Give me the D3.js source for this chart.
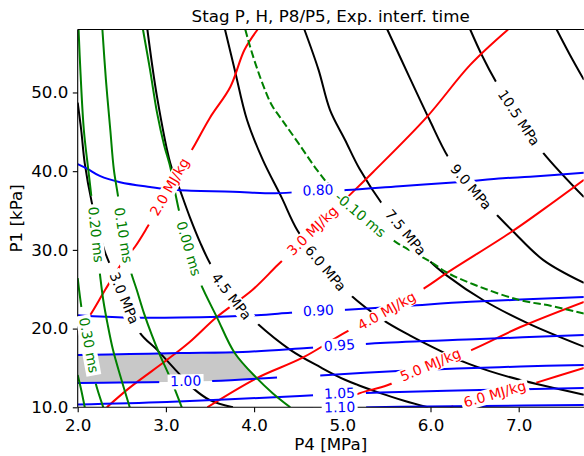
<!DOCTYPE html>
<html>
<head>
<meta charset="utf-8">
<script src="https://cdn.jsdelivr.net/npm/d3@7"></script>
<style>
  body { margin: 0; background: #fff; }
  svg { display: block; font-family: "DejaVu Sans", sans-serif; }
</style>
</head>
<body>
<svg id="chart" width="584" height="456"></svg>
<script>
// contour paths, points are [P4 MPa, P1 kPa]
const xTicks = [2, 3, 4, 5, 6, 7];
const yTicks = [10, 20, 30, 40, 50];

// stagnation pressure (black)
const stagPLevels = [3.0, 4.5, 6.0, 7.5, 9.0, 10.5, 12.0];
const stagPLines = [
  [[2.00,48.7],[2.04,45.2],[2.08,41.0],[2.16,36.0],[2.23,32.8],[2.31,29.7],[2.39,27.5],[2.53,23.6],[2.71,19.4],[2.90,17.3],[3.13,14.5],[3.30,12.5],[3.50,10.9],[3.76,10.0]],
  [[2.79,58.0],[2.90,49.4],[3.05,41.0],[3.16,37.6],[3.27,34.2],[3.39,30.9],[3.50,28.3],[3.74,24.0],[4.03,20.7],[4.41,17.3],[4.75,15.1],[5.03,13.5],[5.43,11.8],[5.71,10.8],[5.97,10.0]],
  [[3.67,58.0],[3.78,52.9],[3.92,46.5],[4.10,41.4],[4.31,36.7],[4.49,32.5],[4.79,27.8],[5.09,24.3],[5.46,21.1],[5.77,19.1],[6.14,17.0],[6.37,15.8],[6.67,14.6],[7.01,13.5],[7.74,11.6]],
  [[4.57,58.0],[4.73,52.9],[4.86,47.8],[5.03,44.0],[5.20,40.2],[5.46,35.7],[5.71,32.2],[6.00,28.5],[6.19,26.7],[6.60,23.6],[7.10,20.7],[7.74,17.7]],
  [[5.51,58.0],[5.68,53.9],[5.88,49.1],[5.99,46.5],[6.20,41.8],[6.45,38.0],[6.73,34.7],[6.94,32.3],[7.28,28.7],[7.74,25.8]],
  [[6.45,58.0],[6.58,54.8],[6.75,51.2],[7.01,46.5],[7.28,42.3],[7.74,36.7]],
  [[7.43,58.0],[7.58,54.8],[7.74,51.6]]
];
const stagPLabels = [[2.46,23.6],[3.74,24.0],[4.80,27.6],[5.71,32.2],[6.45,38.0],[7.01,46.8],null];

// enthalpy (red)
const enthLevels = [2.0, 3.0, 4.0, 5.0, 6.0];
const enthLines = [
  [[4.04,58.0],[3.89,55.4],[3.73,50.7],[3.50,46.8],[3.31,43.0],[3.05,38.0],[2.79,32.9],[2.65,30.4],[2.50,28.3],[2.31,24.9],[2.14,21.7],[2.00,19.6]],
  [[6.88,58.0],[6.45,53.5],[5.96,46.9],[5.35,39.9],[5.05,36.6],[4.66,32.3],[4.27,28.1],[3.98,24.9],[3.58,21.5],[3.27,18.3],[3.01,16.0],[2.59,12.5],[2.33,10.0]],
  [[7.74,38.9],[7.30,35.3],[6.92,32.3],[6.19,27.1],[5.94,25.2],[5.51,22.2],[5.05,19.6],[4.55,16.3],[4.03,13.7],[3.47,10.0]],
  [[7.74,23.4],[7.02,20.2],[6.47,17.3],[6.00,15.3],[5.51,12.8],[5.20,11.8],[4.84,10.0]],
  [[7.74,15.0],[7.22,13.2],[6.73,11.6],[6.22,10.0]]
];
const enthLabels = [[3.05,38.0],[4.66,32.4],[5.51,22.2],[6.00,15.3],[6.73,11.6]];

// P8/P5 (blue), null = break in the contour
const ratioLevels = [0.80, 0.90, 0.95, 1.00, 1.05, 1.10];
const ratioLines = [
  [[2.00,40.9],[2.11,40.3],[2.25,39.4],[2.48,38.6],[2.82,38.0],[3.13,37.6],[3.76,37.4],[4.24,37.2],[4.72,37.5],[5.05,37.6],[5.65,38.1],[6.30,38.6],[6.82,39.1],[7.13,39.3],[7.74,39.8]],
  [[2.00,21.7],[2.56,21.4],[3.16,21.4],[4.03,21.7],[4.41,22.0],[4.72,22.2],[5.05,22.4],[5.75,22.9],[6.45,23.4],[7.74,24.0]],
  [[2.00,16.65],[2.59,16.77],[3.16,16.90],[3.87,17.03],[4.60,17.53],[4.97,17.79],[5.43,18.17],[6.56,18.68],[7.74,19.19]],
  [[2.00,13.09],[2.48,13.15],[3.01,13.21],[3.53,13.34],[4.26,13.79],null,[4.75,14.04],[5.63,14.61],[6.30,14.93],[7.02,15.18],[7.74,15.38]],
  [[2.00,10.36],[3.01,10.67],[4.52,11.44],[4.97,11.69],[5.43,11.88],[6.56,12.20],[7.74,12.45]],
  [[3.95,9.66],[4.97,9.91],[5.65,10.06],[6.56,10.17],[7.74,10.29]]
];
const ratioLabels = [[4.73,37.5],[4.73,22.2],[4.97,17.8],[3.23,13.3],[4.97,11.7],[4.97,9.9]];

// expansion interface time (green)
const timeLevels = [0.40, 0.30, 0.20, 0.10, 0.00, -0.10];
const timeLines = [
  [[2.00,14.1],[2.04,12.2],[2.08,10.0]],
  [[2.00,26.4],[2.05,22.1],[2.12,17.9],[2.20,13.2],[2.29,10.0]],
  [[2.01,58.0],[2.03,52.9],[2.07,45.2],[2.12,40.2],[2.16,36.3],[2.20,31.9],[2.25,27.1],[2.29,23.6],[2.34,20.5],[2.40,17.3],[2.48,14.1],[2.59,10.0]],
  [[2.28,58.0],[2.32,51.6],[2.37,45.2],[2.41,40.2],[2.46,36.6],[2.51,31.9],[2.59,27.7],[2.67,24.9],[2.75,22.0],[2.84,19.2],[2.93,16.7],[3.05,13.7],[3.18,10.0]],
  [[2.74,58.0],[2.82,52.9],[2.90,47.4],[2.98,43.3],[3.05,40.5],[3.11,37.0],[3.16,34.4],[3.25,30.2],[3.39,25.8],[3.58,21.4],[3.78,16.9],[4.03,13.7],[4.21,11.8],[4.41,10.0]],
  [[3.90,58.0],[3.95,56.0],[4.02,53.5],[4.10,51.0],[4.20,48.4],[4.33,46.3],[4.50,43.6],[4.71,40.2],[4.90,37.6],[5.20,34.4],[5.62,30.9],[6.00,28.5],[6.19,27.1],[6.56,25.3],[7.02,23.6],[7.36,22.9],[7.74,21.9]]
];
const timeLabels = [null,[2.12,17.9],[2.20,31.9],[2.51,31.9],[3.25,30.2],[5.20,34.4]];

const families = [
  { levels: stagPLevels, lines: stagPLines, labels: stagPLabels, color: "#000000", fmt: v => v.toFixed(1) + " MPa" },
  { levels: enthLevels, lines: enthLines, labels: enthLabels, color: "#ff0000", fmt: v => v.toFixed(1) + " MJ/kg" },
  { levels: ratioLevels, lines: ratioLines, labels: ratioLabels, color: "#0000ff", fmt: v => v.toFixed(2) },
  { levels: timeLevels, lines: timeLines, labels: timeLabels, color: "#008000", fmt: v => v.toFixed(2) + " ms" }
];

const W = 584, H = 456;
const x = d3.scaleLinear().domain([2.0, 7.737]).range([77.7, 583.7]);
const y = d3.scaleLinear().domain([10.0, 58.0]).range([407.3, 29.5]);

const svg = d3.select("#chart");
const defs = svg.append("defs");

defs.append("clipPath").attr("id", "plotClip")
  .append("rect")
  .attr("x", x(2)).attr("y", y(58))
  .attr("width", x(7.737) - x(2)).attr("height", y(10) - y(58));

const line = d3.line()
  .defined(d => d != null)
  .x(d => x(d[0]))
  .y(d => y(d[1]))
  .curve(d3.curveCatmullRom.alpha(0.5));

const plot = svg.append("g").attr("clip-path", "url(#plotClip)");

// grey band: 0.95 <= P8/P5 <= 1.00 where the interface time is >= 0
const upper = ratioLines[ratioLevels.indexOf(0.95)];
const lower = ratioLines[ratioLevels.indexOf(1.00)].filter(Boolean);
const zeroTime = timeLines[timeLevels.indexOf(0.00)];
const validArea = zeroTime.concat([[1.5, 10.0], [1.5, 58.0]]);

defs.append("clipPath").attr("id", "validClip")
  .append("path")
  .attr("d", d3.line().x(d => x(d[0])).y(d => y(d[1]))(validArea) + "Z");

plot.append("g").attr("clip-path", "url(#validClip)")
  .append("path")
  .attr("d", d3.line().x(d => x(d[0])).y(d => y(d[1]))(upper.concat(lower.slice().reverse())) + "Z")
  .attr("fill", "#c8c8c8")
  .attr("stroke", "none");

// contour lines
families.forEach(function (fam) {
  fam.paths = fam.lines.map(function (pts, i) {
    return plot.append("path")
      .attr("d", line(pts))
      .attr("fill", "none")
      .attr("stroke", fam.color)
      .attr("stroke-width", 2)
      .attr("stroke-dasharray", fam.levels[i] < 0 ? "7.7,3.3" : null);
  });
});

// spines and axes
const spines = svg.append("g").attr("stroke", "#000").attr("stroke-width", 1.1);
spines.append("line").attr("x1", x(2)).attr("x2", x(2)).attr("y1", y(58)).attr("y2", y(10));
spines.append("line").attr("x1", x(2)).attr("x2", W).attr("y1", y(10)).attr("y2", y(10));
spines.append("line").attr("x1", x(2)).attr("x2", W).attr("y1", y(58)).attr("y2", y(58));

const xAxis = svg.append("g")
  .attr("transform", `translate(0,${y(10)})`)
  .call(d3.axisBottom(x).tickValues(xTicks).tickFormat(d3.format(".1f")).tickSize(4.9).tickPadding(7.4));

const yAxis = svg.append("g")
  .attr("transform", `translate(${x(2)},0)`)
  .call(d3.axisLeft(y).tickValues(yTicks).tickFormat(d3.format(".1f")).tickSize(4.9).tickPadding(4.5));

[xAxis, yAxis].forEach(function (ax) {
  ax.select(".domain").remove();
  ax.attr("font-size", null).attr("font-family", null);
  ax.selectAll("line").attr("stroke", "#000").attr("stroke-width", 1.1);
  ax.selectAll("text").style("font-size", "16.7px").attr("fill", "#000");
});

svg.append("text")
  .attr("x", 330.7).attr("y", 21.5)
  .attr("text-anchor", "middle")
  .style("font-size", "16.7px")
  .text("Stag P, H, P8/P5, Exp. interf. time");

svg.append("text")
  .attr("x", 330.7).attr("y", 450)
  .attr("text-anchor", "middle")
  .style("font-size", "16.7px")
  .text("P4 [MPa]");

svg.append("text")
  .attr("transform", "translate(22,218.4) rotate(-90)")
  .attr("text-anchor", "middle")
  .style("font-size", "16.7px")
  .text("P1 [kPa]");

// inline contour labels, rotated along the line, white box behind
const boxLayer = svg.append("g");
const textLayer = svg.append("g");
let maskId = 0;

function placeOnPath(node, target) {
  const total = node.getTotalLength();
  let best = 0, bestD = Infinity;
  for (let s = 0; s <= total; s += 1) {
    const p = node.getPointAtLength(s);
    const d = (p.x - target[0]) ** 2 + (p.y - target[1]) ** 2;
    if (d < bestD) { bestD = d; best = s; }
  }
  const c = node.getPointAtLength(best);
  const a = node.getPointAtLength(Math.max(0, best - 12));
  const b = node.getPointAtLength(Math.min(total, best + 12));
  let angle = Math.atan2(b.y - a.y, b.x - a.x) * 180 / Math.PI;
  if (angle > 90) angle -= 180;
  if (angle < -90) angle += 180;
  return { x: c.x, y: c.y, angle: angle };
}

families.forEach(function (fam) {
  fam.labels.forEach(function (pos, i) {
    if (!pos) return;
    const path = fam.paths[i];
    const spot = placeOnPath(path.node(), [x(pos[0]), y(pos[1])]);
    const tf = `translate(${spot.x},${spot.y}) rotate(${spot.angle})`;

    const txt = textLayer.append("text")
      .attr("transform", tf)
      .attr("text-anchor", "middle")
      .attr("dy", "0.3em")
      .attr("fill", fam.color)
      .style("font-size", "13.9px")
      .text(fam.fmt(fam.levels[i]));
    const len = txt.node().getComputedTextLength();

    boxLayer.append("rect")
      .attr("transform", tf)
      .attr("x", -len / 2 - 2.5).attr("y", -7.5)
      .attr("width", len + 5).attr("height", 15)
      .attr("fill", "#fff");

    // gap in the labelled line itself
    const id = "gap" + (maskId++);
    const mask = defs.append("mask").attr("id", id)
      .attr("maskUnits", "userSpaceOnUse")
      .attr("x", 0).attr("y", 0).attr("width", W).attr("height", H);
    mask.append("rect").attr("x", 0).attr("y", 0).attr("width", W).attr("height", H).attr("fill", "#fff");
    mask.append("rect")
      .attr("transform", tf)
      .attr("x", -len / 2 - 11).attr("y", -11)
      .attr("width", len + 22).attr("height", 22)
      .attr("fill", "#000");
    path.attr("mask", `url(#${id})`);
  });
});
</script>
</body>
</html>
